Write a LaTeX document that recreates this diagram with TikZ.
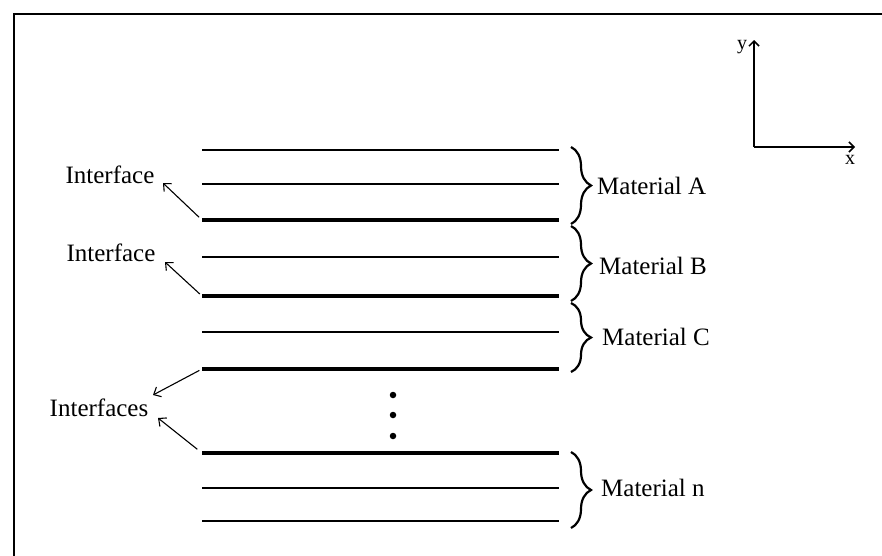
\documentclass[tikz,border=0pt]{standalone}
\usepackage{fontspec}
\setmainfont{Liberation Serif}
\usetikzlibrary{decorations.pathreplacing,arrows.meta}
\begin{document}
\begin{tikzpicture}[x=1pt,y=-1pt,
 frameline/.style={line width=2pt},
 thinline/.style={line width=1.4pt},
 thickline/.style={line width=3.3pt},
 lbl/.style={font=\fontsize{25}{30}\selectfont, inner sep=0pt},
 axlbl/.style={font=\fontsize{20}{24}\selectfont, inner sep=0pt},
 ptr/.style={line width=1.1pt,-{Straight Barb[length=6pt,width=11pt]}},
 axptr/.style={line width=1.5pt,-{Straight Barb[length=5pt,width=10pt]}},
 brc/.style={decorate,decoration={brace,amplitude=20pt,aspect=0.5},line width=2.2pt},
 dot/.style={circle,fill=black,inner sep=0pt,minimum size=6.5pt},
]
\useasboundingbox (0,0) rectangle (882,555);
% frame
\coordinate (fb) at (13.5,556);
\coordinate (fc) at (13.5,13.5);
\coordinate (fr) at (883,13.5);
\draw[frameline] (fb) -- (fc) -- (fr);
% layer lines
\foreach \n/\y/\s in {1/150/thinline,2/184/thinline,3/220/thickline,4/257/thinline,5/296/thickline,
                      6/332/thinline,7/369/thickline,8/453/thickline,9/488/thinline,10/521/thinline}{
  \coordinate (w\n) at (202,\y);
  \coordinate (e\n) at (559,\y);
  \draw[\s] (w\n) -- (e\n);
}
% braces
\coordinate (bA1) at (571,147); \coordinate (bA2) at (571,224);
\coordinate (bB1) at (571,226); \coordinate (bB2) at (571,301);
\coordinate (bC1) at (571,303); \coordinate (bC2) at (571,372);
\coordinate (bn1) at (571,452); \coordinate (bn2) at (571,528);
\draw[brc] (bA1) -- (bA2);
\draw[brc] (bB1) -- (bB2);
\draw[brc] (bC1) -- (bC2);
\draw[brc] (bn1) -- (bn2);
\node[lbl,anchor=west] (matA) at (597,186) {Material A};
\node[lbl,anchor=west] (matB) at (599,266) {Material B};
\node[lbl,anchor=west] (matC) at (602,337) {Material C};
\node[lbl,anchor=west] (matn) at (601,488) {Material n};
% interface labels
\node[lbl] (if1) at (110,175) {Interface};
\node[lbl] (if2) at (111,253) {Interface};
\node[lbl] (ifs) at (99,408) {Interfaces};
\coordinate (t1) at (163,183);
\coordinate (t2) at (165,262);
\coordinate (t3) at (153,395);
\coordinate (t4) at (158,418);
\draw[ptr,shorten <=4pt] (w3) -- (t1);
\draw[ptr,shorten <=3pt] (w5) -- (t2);
\draw[ptr,shorten <=3pt] (w7) -- (t3);
\draw[ptr,shorten <=6pt] (w8) -- (t4);
% dots
\node[dot] (d1) at (393,395) {};
\node[dot] (d2) at (393,415) {};
\node[dot] (d3) at (393,436) {};
% axes
\coordinate (O) at (754,147);
\coordinate (Y) at (754,40);
\coordinate (X) at (855,147);
\draw[axptr] (O) -- (Y);
\draw[axptr] (O) -- (X);
\node[axlbl] (ylbl) at (742,47) {y};
\node[axlbl] (xlbl) at (850,160) {x};
\end{tikzpicture}
\end{document}
